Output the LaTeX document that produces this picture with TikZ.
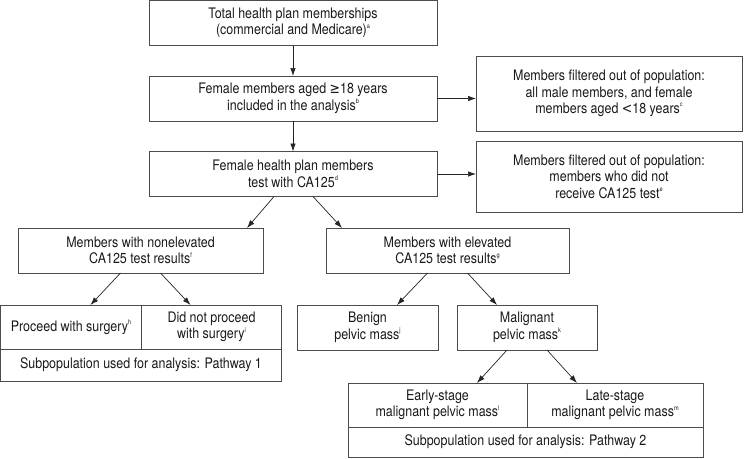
\documentclass[tikz,border=0pt]{standalone}
\usepackage{fontspec}
\setmainfont{TeX Gyre Heros}[FakeStretch=0.86]
\newfontfamily\symfont{DejaVu Sans}[FakeStretch=0.86]
\usetikzlibrary{arrows.meta}
\newcommand{\fnm}[1]{\raisebox{0.9ex}{\fontsize{6.5}{6.5}\selectfont #1}}

\begin{document}
\begin{tikzpicture}[x=1pt, y=-1pt, node distance=75.5pt,
  box/.style={rectangle, draw=black!70, line width=0.8pt, align=center, inner sep=0pt, outer sep=0pt, text=black!90, font=\fontsize{14.5}{16.5}\selectfont},
  link/.style={draw=black!85, line width=0.7pt, -{Latex[length=8pt,width=5.5pt]}}]

\useasboundingbox (0,0) rectangle (744,458);

% Nodes
\node (total) [box, minimum width=288pt, minimum height=45pt] at (293,23) {Total health plan memberships\\(commercial and Medicare)\fnm{a}};
\node (female) [box, minimum width=288pt, minimum height=45pt, below of=total] {Female members aged {\symfont ≥}18 years\\included in the analysis\fnm{b}};
\node (tested) [box, minimum width=288pt, minimum height=45pt, below of=female] {Female health plan members\\test with CA125\fnm{d}};
\node (filterA) [box, minimum width=266pt, minimum height=75pt] at (609,93.5) {Members filtered out of population:\\all male members, and female\\members aged {\symfont <}18 years\fnm{c}};
\node (filterB) [box, minimum width=266pt, minimum height=71pt] at (609,176.5) {Members filtered out of population:\\members who did not\\receive CA125 test\fnm{e}};
\node (nonelev) [box, minimum width=245pt, minimum height=45pt] at (140.5,250.5) {Members with nonelevated\\CA125 test results\fnm{f}};
\node (elev) [box, minimum width=243pt, minimum height=45pt] at (447.5,250.5) {Members with elevated\\CA125 test results\fnm{g}};
\node (surgery) [box, minimum width=141pt, minimum height=44pt] at (71,327) {Proceed with surgery\fnm{h}};
\node (nosurgery) [box, minimum width=140pt, minimum height=44pt] at (211.5,327) {Did not proceed\\with surgery\fnm{i}};
\node (path1) [box, minimum width=281pt, minimum height=32pt] at (141,365) {Subpopulation used for analysis: Pathway 1};
\node (benign) [box, minimum width=141pt, minimum height=45pt] at (367.5,327.5) {Benign\\pelvic mass\fnm{j}};
\node (malign) [box, minimum width=140pt, minimum height=45pt] at (527,327.5) {Malignant\\pelvic mass\fnm{k}};
\node (early) [box, minimum width=179pt, minimum height=44pt] at (437.5,405) {Early-stage\\malignant pelvic mass\fnm{l}};
\node (late) [box, minimum width=176pt, minimum height=44pt] at (615,405) {Late-stage\\malignant pelvic mass\fnm{m}};
\node (path2) [box, minimum width=355pt, minimum height=30pt] at (525.5,442) {Subpopulation used for analysis: Pathway 2};

% Arrows
\draw [link] (total) -- (female);
\draw [link] (female) -- (tested);
\draw [link] (female.east) -- (female.east -| filterA.west);
\draw [link] (tested.east) -- (tested.east -| filterB.west);
\draw [link] ([xshift=-19pt]tested.south) -- ([xshift=106.5pt]nonelev.north);
\draw [link] ([xshift=20pt]tested.south) -- ([xshift=-105.5pt]elev.north);
\draw [link] ([xshift=-20pt]nonelev.south) -- ([xshift=19.5pt]surgery.north);
\draw [link] ([xshift=20pt]nonelev.south) -- ([xshift=-21pt]nosurgery.north);
\draw [link] ([xshift=-20pt]elev.south) -- ([xshift=29.5pt]benign.north);
\draw [link] ([xshift=20pt]elev.south) -- ([xshift=-30pt]malign.north);
\draw [link] ([xshift=-20pt]malign.south) -- ([xshift=39.5pt]early.north);
\draw [link] ([xshift=20pt]malign.south) -- ([xshift=-38pt]late.north);

\end{tikzpicture}
\end{document}
